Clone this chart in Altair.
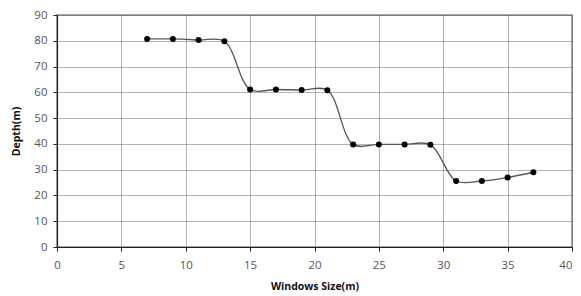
import altair as alt
import pandas as pd

window_size = [7, 9, 11, 13, 15, 17, 19, 21, 23, 25, 27, 29, 31, 33, 35, 37]
depth = [80.7, 80.7, 80.3, 79.8, 61.1, 61.1, 60.9, 60.8, 39.8, 39.8, 39.8, 39.7, 25.6, 25.6, 27.0, 29.0]

df = pd.DataFrame({"w": window_size, "d": depth})

x = alt.X("w:Q", title="Windows Size(m)",
          scale=alt.Scale(domain=[0, 40], nice=False),
          axis=alt.Axis(values=[0, 5, 10, 15, 20, 25, 30, 35, 40], tickSize=4,
                        labelPadding=8, titlePadding=11, labelFlush=False,
                        labelAlign=alt.expr("datum.value >= 40 ? 'right' : 'center'")))
y = alt.Y("d:Q", title="Depth(m)",
          scale=alt.Scale(domain=[0, 90], nice=False),
          axis=alt.Axis(values=list(range(0, 91, 10)), tickSize=4,
                        labelPadding=6, titlePadding=12, labelFlush=False))

line = alt.Chart(df).mark_line(interpolate="catmull-rom", color="#555555",
                               strokeWidth=1.3).encode(x=x, y=y)
pts = alt.Chart(df).mark_circle(size=36, color="#000000", opacity=1).encode(x=x, y=y)

chart = (line + pts).properties(
    width=515, height=232,
    autosize=alt.AutoSizeParams(type="none"),
    padding={"left": 49, "top": 7, "right": 1, "bottom": 47},
).configure_view(
    stroke="#888888", strokeWidth=1.5
).configure_axis(
    grid=True, gridColor="#444444", gridDash=[1, 1], gridWidth=1, gridOpacity=0.8,
    domainColor="#222222", domainWidth=1.2, tickColor="#222222",
    labelFont="Open Sans", labelFontSize=11.5, labelColor="#555555",
    titleFont="Open Sans", titleFontSize=10.5, titleFontWeight="bold", titleColor="#111111",
).configure_axisY(
    labelAlign="right"
)

chart.save("out.html", embed_options={"renderer": "svg", "actions": False})
